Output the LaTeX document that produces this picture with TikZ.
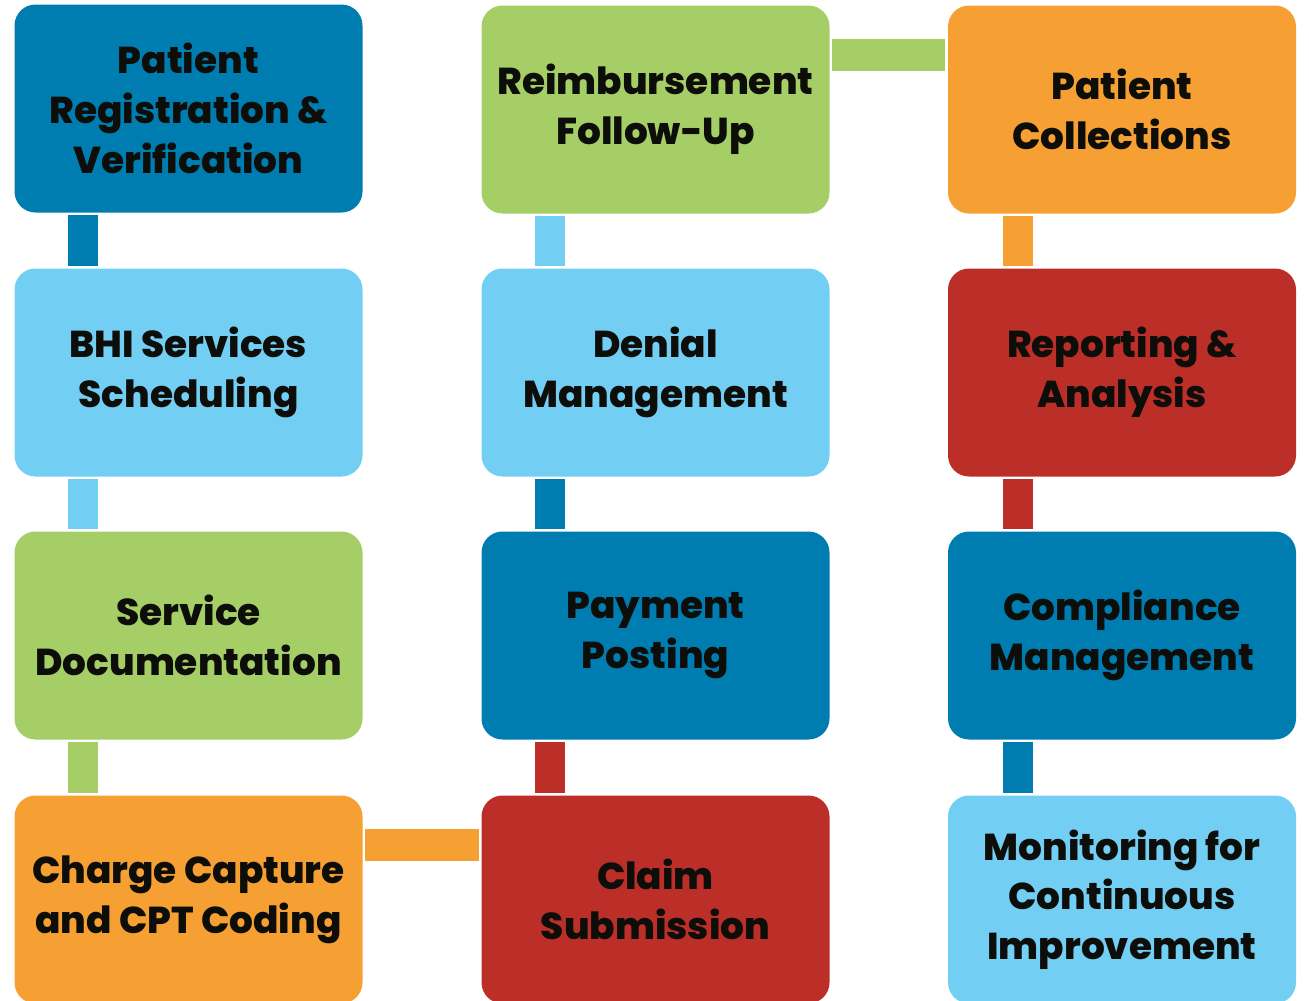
\documentclass[tikz,border=0pt]{standalone}
\usepackage{fontspec}
\setmainfont{Poppins}[BoldFont={Poppins ExtraBold}]
\usepackage{xcolor}
\usetikzlibrary{calc}
\definecolor{oceanblue}{RGB}{0,125,176}
\definecolor{skyblue}{RGB}{115,206,243}
\definecolor{leafgreen}{RGB}{166,206,103}
\definecolor{mangoorange}{RGB}{246,160,51}
\definecolor{brickred}{RGB}{188,47,41}
\definecolor{inkblack}{RGB}{13,13,10}
\tikzset{
    stage/.style={
        rounded corners=0.42cm,
        minimum width=6.96cm,
        minimum height=4.16cm,
        align=center,
        text=inkblack,
        font=\bfseries\fontsize{21.3}{28.3}\selectfont,
        fill=#1,
    },
    link/.style={
        draw=#1,
        line width=0.6cm,
        line cap=butt,
    },
}

\begin{document}
\begin{tikzpicture}
    \useasboundingbox (0, 0) rectangle (26.18, -20);
    % First column, top to bottom
    \node[stage=oceanblue] (reg) at (3.77, -2.17) {Patient\\Registration \&\\Verification};
    \node[stage=skyblue] (sched) at (3.77, -7.45) {BHI Services\\Scheduling};
    \node[stage=leafgreen] (doc) at (3.77, -12.71) {Service\\Documentation};
    \node[stage=mangoorange] (charge) at (3.77, -17.99) {Charge Capture\\and CPT Coding};
    % Second column, bottom to top
    \node[stage=brickred] (claim) at (13.11, -17.99) {Claim\\Submission};
    \node[stage=oceanblue] (post) at (13.11, -12.71) {Payment\\Posting};
    \node[stage=skyblue] (denial) at (13.11, -7.45) {Denial\\Management};
    \node[stage=leafgreen] (reimb) at (13.11, -2.19) {Reimbursement\\Follow-Up};
    % Third column, top to bottom
    \node[stage=mangoorange] (collect) at (22.44, -2.19) {Patient\\Collections};
    \node[stage=brickred] (report) at (22.44, -7.45) {Reporting \&\\Analysis};
    \node[stage=oceanblue] (comply) at (22.44, -12.71) {Compliance\\Management};
    \node[stage=skyblue] (monitor) at (22.44, -17.99) {Monitoring for\\Continuous\\Improvement};

    % Vertical links, coloured as the box they leave
    \draw[link=oceanblue] ($(reg.south west)+(1.38,-0.05)$) -- ($(sched.north west)+(1.38,0.05)$);
    \draw[link=skyblue] ($(sched.south west)+(1.38,-0.05)$) -- ($(doc.north west)+(1.38,0.05)$);
    \draw[link=leafgreen] ($(doc.south west)+(1.38,-0.05)$) -- ($(charge.north west)+(1.38,0.05)$);
    \draw[link=brickred] ($(claim.north west)+(1.38,0.05)$) -- ($(post.south west)+(1.38,-0.05)$);
    \draw[link=oceanblue] ($(post.north west)+(1.38,0.05)$) -- ($(denial.south west)+(1.38,-0.05)$);
    \draw[link=skyblue] ($(denial.north west)+(1.38,0.05)$) -- ($(reimb.south west)+(1.38,-0.05)$);
    \draw[link=mangoorange] ($(collect.south west)+(1.4,-0.05)$) -- ($(report.north west)+(1.4,0.05)$);
    \draw[link=brickred] ($(report.south west)+(1.4,-0.05)$) -- ($(comply.north west)+(1.4,0.05)$);
    \draw[link=oceanblue] ($(comply.south west)+(1.4,-0.05)$) -- ($(monitor.north west)+(1.4,0.05)$);
    % Horizontal links
    \draw[link=mangoorange, line width=0.64cm] ($(charge.north east)+(0.05,-1.0)$) -- ($(claim.north west)+(-0.05,-1.0)$);
    \draw[link=leafgreen, line width=0.64cm] ($(reimb.north east)+(0.05,-1.0)$) -- ($(collect.north west)+(-0.05,-1.0)$);
\end{tikzpicture}
\end{document}
